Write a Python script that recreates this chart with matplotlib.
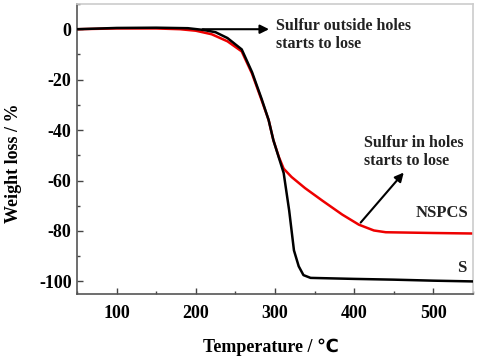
import matplotlib
matplotlib.use("Agg")
import matplotlib.pyplot as plt
from matplotlib.ticker import MultipleLocator

plt.rcParams['font.family'] = ['Liberation Serif', 'DejaVu Sans']
plt.rcParams['font.weight'] = 'bold'
plt.rcParams['axes.unicode_minus'] = False

# TG curves (temperature in C, weight loss in %)
s_temp = [50, 100, 150, 190, 210, 225, 240, 258, 271, 283, 292, 298, 305, 311,
          318, 324, 330, 336, 345, 400, 450, 500, 550]
s_loss = [0, 0.5, 0.6, 0.4, -0.3, -1.2, -3.5, -8.0, -17, -27.5, -36, -44, -51, -57,
          -72, -87.7, -94, -97.5, -98.6, -99.0, -99.3, -99.7, -100]

nspcs_temp = [50, 100, 150, 180, 200, 220, 240, 258, 271, 283, 292, 298, 305, 311,
              321, 338, 360, 385, 406, 425, 440, 500, 550]
nspcs_loss = [0, 0.3, 0.3, 0, -0.6, -2.0, -4.8, -8.8, -17.6, -28, -36, -44, -50.7, -55.3,
              -58.6, -63, -68, -73.5, -77.5, -79.8, -80.5, -80.8, -81]

curve_names = ['S', 'NSPCS']
note_outside = 'Sulfur outside holes\nstarts to lose'
note_inside = 'Sulfur in holes\nstarts to lose'

fig = plt.figure(figsize=(4.91, 3.63), dpi=100)
ax = fig.add_axes([0.157, 0.190, 0.806, 0.799])

ax.plot(s_temp, s_loss, color='black', lw=1.8, zorder=3)
ax.plot(nspcs_temp, nspcs_loss, color='#ee0000', lw=1.8, zorder=2)

ax.set_xlim(50, 550)
ax.set_ylim(-105, 10)
ax.xaxis.set_major_locator(MultipleLocator(100))
ax.xaxis.set_minor_locator(MultipleLocator(50))
ax.yaxis.set_major_locator(MultipleLocator(20))
ax.yaxis.set_minor_locator(MultipleLocator(10))
ax.tick_params(which='both', direction='in', top=False, right=False,
               color='#444444', labelsize=13)
ax.tick_params(which='major', length=4, width=1)
ax.tick_params(which='minor', length=2, width=1)
ax.tick_params(axis='x', pad=8)
ax.tick_params(axis='y', pad=4)

for side in ['left', 'bottom']:
    ax.spines[side].set_color('#555555')
    ax.spines[side].set_linewidth(1.2)
for side in ['top', 'right']:
    ax.spines[side].set_color('#cccccc')
    ax.spines[side].set_linewidth(1.2)

ax.set_xlabel('Temperature / \u2103', fontsize=13, fontweight='bold')
ax.set_ylabel('Weight loss / %', fontsize=13, fontweight='bold')
ax.xaxis.set_label_coords(0.49, -0.152)
ax.yaxis.set_label_coords(-0.139, 0.45)

# arrows and notes
ax.annotate('', xy=(296, 0), xytext=(205, 0),
            arrowprops=dict(arrowstyle='-|>', color='black', lw=1.5,
                            mutation_scale=13))
ax.text(301, -2.4, note_outside, fontsize=11.5, fontweight='bold',
        va='center', ha='left', linespacing=1.2, color='#222222')

ax.annotate('', xy=(465, -56), xytext=(406, -77.5),
            arrowprops=dict(arrowstyle='-|>', color='black', lw=1.5,
                            mutation_scale=13))
ax.text(412, -48.6, note_inside, fontsize=11.5, fontweight='bold',
        va='center', ha='left', linespacing=1.2, color='#222222')

ax.text(545, -73, curve_names[1], fontsize=12, fontweight='bold',
        ha='right', va='center', color='#222222')
ax.text(542, -94.5, curve_names[0], fontsize=12, fontweight='bold',
        ha='right', va='center', color='#222222')

fig.savefig('out.png', dpi=100)
